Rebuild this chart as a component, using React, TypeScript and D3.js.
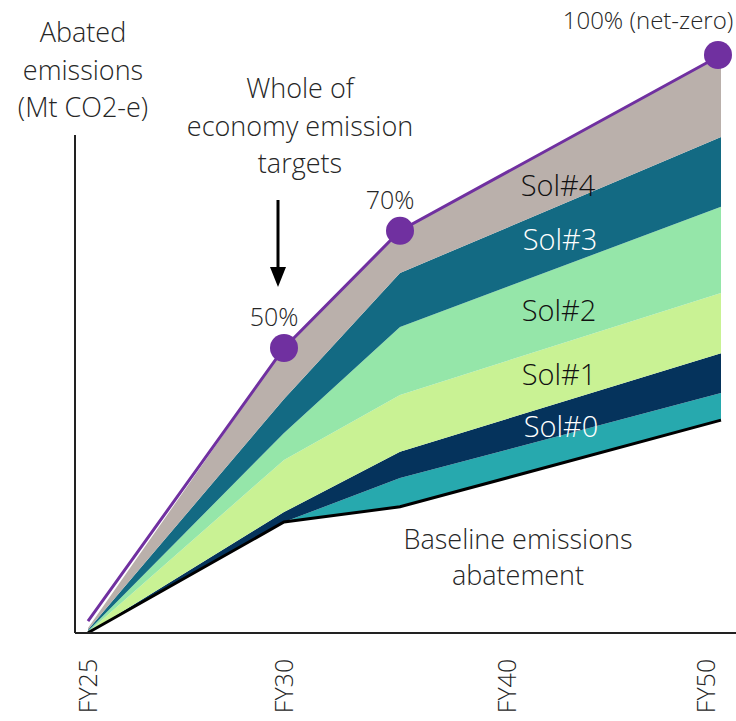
import React from "react";
import * as d3 from "d3";

// Fiscal years at which the abatement pathway is sampled
const years = [2025, 2030, 2035, 2050];

// Baseline emissions abatement (Mt CO2-e)
const baseline = [1.4, 20.3, 22.9, 37.7];

// Solution wedges stacked on top of the baseline (bottom to top)
const bandKeys = ["teal", "sol0", "sol1", "sol2", "sol3", "sol4"];
const teal = [0, 0, 4.9, 4.6];
const sol0 = [0, 1.7, 4.5, 6.8];
const sol1 = [0.1, 8.9, 9.7, 10.3];
const sol2 = [0.2, 4.6, 11.6, 14.7];
const sol3 = [0.2, 5.8, 9.2, 11.9];
const sol4 = [0.3, 8.7, 7.2, 14.0];

// Whole-of-economy emission targets (% of net-zero)
const targetYears = [2025, 2030, 2035, 2050];
const targetValues = [3.4, 50, 70, 100];
const targetLabels = ["", "50%", "70%", "100% (net-zero)"];
const markedTargets = [1, 2, 3];

// Axis tick labels
const tickYears = [2025, 2030, 2040, 2050];
const tickLabels = ["FY25", "FY30", "FY40", "FY50"];

const bandColors: Record<string, string> = {
  teal: "#27a9ae",
  sol0: "#05335c",
  sol1: "#c9f294",
  sol2: "#95e6a9",
  sol3: "#136a83",
  sol4: "#bab0ab",
};

const W = 736;
const H = 721;
const FONT = "'Open Sans', 'Noto Sans', sans-serif";
const PURPLE = "#7030a0";
const INK = "#262626";

export default function App() {
  const x = d3
    .scaleLinear()
    .domain([2025, 2030, 2035, 2050])
    .range([88, 284, 400, 721]);
  const y = d3.scaleLinear().domain([0, 100]).range([641, 55]);

  const rows = years.map((yr, i) => ({
    year: yr,
    base: baseline[i],
    teal: teal[i],
    sol0: sol0[i],
    sol1: sol1[i],
    sol2: sol2[i],
    sol3: sol3[i],
    sol4: sol4[i],
  }));

  const stacked = d3
    .stack<any>()
    .keys(bandKeys)
    .offset((series: any[], order: number[]) => {
      // start the first wedge on top of the baseline abatement
      for (let j = 0; j < series[order[0]].length; j++) {
        let acc = rows[j].base;
        for (let k = 0; k < order.length; k++) {
          const s = series[order[k]][j];
          const v = s[1] - s[0];
          s[0] = acc;
          s[1] = acc + v;
          acc += v;
        }
      }
    })(rows);

  const area = d3
    .area<any>()
    .x((d) => x(d.data.year))
    .y0((d) => y(d[0]))
    .y1((d) => y(d[1]));

  const baseLine = d3
    .line<number>()
    .x((_, i) => x(years[i]))
    .y((d) => y(d))(baseline);

  const targetLine = d3
    .line<number>()
    .x((_, i) => x(targetYears[i]))
    .y((d) => y(d))(targetValues);

  const axisLeft = 75;
  const axisBottom = 633;
  const axisTop = 135;

  const solLabels = [
    { text: "Sol#4", x: 558, y: 186, fill: "#111" },
    { text: "Sol#3", x: 560, y: 240, fill: "#fff" },
    { text: "Sol#2", x: 559, y: 311, fill: "#111" },
    { text: "Sol#1", x: 559, y: 375, fill: "#111" },
    { text: "Sol#0", x: 561, y: 427, fill: "#fff" },
  ];

  return (
    <svg
      width={W}
      height={H}
      style={{ position: "absolute", left: 0, top: 0, background: "#fff" }}
      fontFamily={FONT}
      fontWeight={300}
    >
      {stacked.map((s: any) => (
        <path key={s.key} d={area(s) || ""} fill={bandColors[s.key]} />
      ))}

      <path d={baseLine || ""} fill="none" stroke="#000" strokeWidth={3} />
      <path d={targetLine || ""} fill="none" stroke={PURPLE} strokeWidth={3} />

      {markedTargets.map((i) => (
        <circle
          key={i}
          cx={Math.min(x(targetYears[i]), 718)}
          cy={y(targetValues[i])}
          r={14}
          fill={PURPLE}
        />
      ))}

      {/* axes */}
      <line x1={axisLeft} x2={axisLeft} y1={axisTop} y2={axisBottom} stroke="#222" strokeWidth={2} />
      <line x1={axisLeft} x2={W} y1={axisBottom} y2={axisBottom} stroke="#222" strokeWidth={2} />

      {tickYears.map((yr, i) => (
        <text
          key={yr}
          transform={`translate(${Math.min(x(yr), 706)},${686}) rotate(-90)`}
          textAnchor="middle"
          dy="0.35em"
          fontSize={25}
          fill={INK}
        >
          {tickLabels[i]}
        </text>
      ))}

      {/* y axis title */}
      <text textAnchor="middle" fontSize={27} fill={INK}>
        <tspan x={83} y={42}>Abated</tspan>
        <tspan x={83} y={80}>emissions</tspan>
        <tspan x={83} y={117}>(Mt CO2-e)</tspan>
      </text>

      {/* target annotation */}
      <text textAnchor="middle" fontSize={27} fill={INK}>
        <tspan x={300} y={98}>Whole of</tspan>
        <tspan x={300} y={136}>economy emission</tspan>
        <tspan x={300} y={173}>targets</tspan>
      </text>
      <line x1={278} x2={278} y1={200} y2={270} stroke="#000" strokeWidth={3} />
      <path d="M270,267 L286,267 L278,287 Z" fill="#000" />

      {markedTargets.map((i) => {
        const cx = x(targetYears[i]);
        const cy = y(targetValues[i]);
        const last = i === targetValues.length - 1;
        return (
          <text
            key={`t${i}`}
            x={last ? 648 : cx - 10}
            y={last ? 29 : cy - 22}
            textAnchor="middle"
            fontSize={last ? 24 : 25}
            fill={INK}
          >
            {targetLabels[i]}
          </text>
        );
      })}

      {solLabels.map((l) => (
        <text key={l.text} x={l.x} y={l.y} dy="0.35em" textAnchor="middle" fontSize={29} fill={l.fill}>
          {l.text}
        </text>
      ))}

      <text textAnchor="middle" fontSize={27} fill={INK}>
        <tspan x={518} y={549}>Baseline emissions</tspan>
        <tspan x={518} y={585}>abatement</tspan>
      </text>
    </svg>
  );
}
